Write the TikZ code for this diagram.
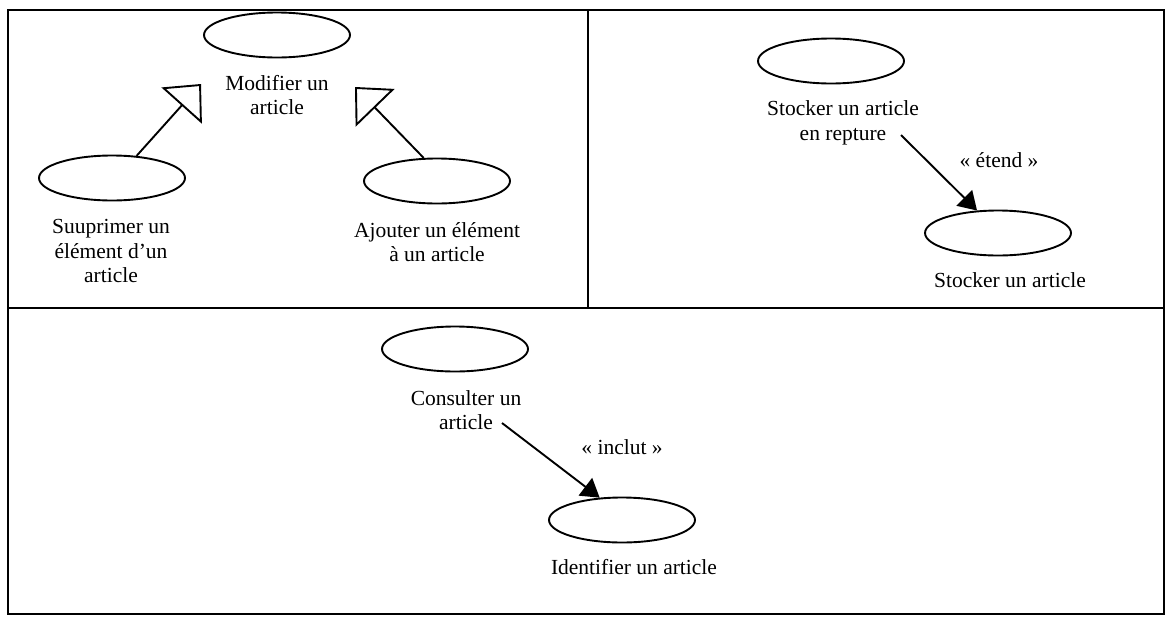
\documentclass[tikz,border=0pt]{standalone}
\usepackage{fontspec}
\setmainfont{Liberation Serif}
\usetikzlibrary{shapes.geometric,arrows.meta}
\tikzset{
  uc/.style={draw, ellipse, line width=1.9pt, inner sep=0pt, minimum width=146pt, minimum height=45pt},
  lbl/.style={font=\fontsize{21.5}{24.5}\selectfont, align=center, inner sep=0pt},
  gen/.style={line width=1.9pt, -{Triangle[open, length=29pt, width=54pt]}},
  dep/.style={line width=1.9pt, -{Triangle[length=18pt, width=22pt]}},
  frame/.style={line width=1.9pt}
}
\begin{document}
\begin{tikzpicture}[x=1pt, y=-1pt]
\useasboundingbox (0,0) rectangle (1168,619);
% frame
\draw[frame] (8,10) rectangle (1164,614);
\draw[frame] (588,10) -- (588,308);
\draw[frame] (8,308) -- (1164,308);

% top-left panel
\node[uc] (mod) at (277,35) {};
\node[lbl] (modtxt) at (277,95) {Modifier un\\article};
\node[uc] (supp) at (112,178) {};
\node[lbl] (supptxt) at (111,251) {Suuprimer un\\élément d’un\\article};
\node[uc] (ajout) at (437,181) {};
\node[lbl] (ajouttxt) at (437,242) {Ajouter un élément\\à un article};
\coordinate (tipL) at (201,84);
\coordinate (tipR) at (355,87);
\draw[gen] (supp.42) -- (tipL);
\draw[gen] (ajout.120) -- (tipR);

% top-right panel
\node[uc] (st1) at (831,61) {};
\node[lbl] (st1txt) at (843,123) {Stocker un article\\en repture};
\node[uc] (st2) at (998,233) {};
\node[lbl] (st2txt) at (1010,280) {Stocker un article};
\coordinate (extsrc) at (901,135);
\draw[dep] (extsrc) -- (st2.133);
\node[lbl] (etend) at (999,160) {« étend »};

% bottom panel
\node[uc] (cons) at (455,349) {};
\node[lbl] (constxt) at (466,410) {Consulter un\\article};
\node[uc] (ident) at (622,520) {};
\node[lbl] (identtxt) at (634,567) {Identifier un article};
\coordinate (incsrc) at (502,423);
\draw[dep] (incsrc) -- (ident.135);
\node[lbl] (inclut) at (622,447) {« inclut »};
\end{tikzpicture}
\end{document}
